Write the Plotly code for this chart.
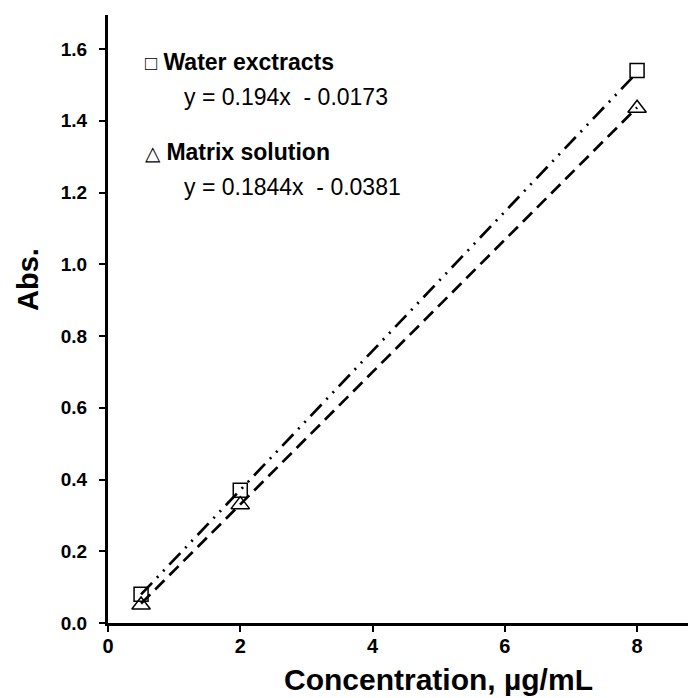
import plotly.graph_objects as go

concentration = [0.5, 2, 8]
water_abs = [0.08, 0.37, 1.54]
matrix_abs = [0.05, 0.33, 1.435]
water_fit = (0.194, -0.0173)
matrix_fit = (0.1844, -0.0381)
fit_x = [0.5, 8]
x_ticks = [0, 2, 4, 6, 8]
y_ticks = [0.0, 0.2, 0.4, 0.6, 0.8, 1.0, 1.2, 1.4, 1.6]

FONT = "Liberation Sans, Arial, sans-serif"

fig = go.Figure()
fig.add_trace(go.Scatter(
    x=fit_x, y=[water_fit[0] * v + water_fit[1] for v in fit_x],
    mode="lines", line=dict(color="black", width=2.7, dash="16px,7px,2px,7px,2px,7px"),
    showlegend=False, hoverinfo="skip"))
fig.add_trace(go.Scatter(
    x=fit_x, y=[matrix_fit[0] * v + matrix_fit[1] for v in fit_x],
    mode="lines", line=dict(color="black", width=2.7, dash="13px,7px"),
    showlegend=False, hoverinfo="skip"))
fig.add_trace(go.Scatter(
    x=concentration, y=water_abs, mode="markers", name="Water exctracts",
    marker=dict(symbol="square-open", size=14, color="black", line=dict(width=1.5)),
    showlegend=False))
fig.add_trace(go.Scatter(
    x=concentration, y=matrix_abs, mode="markers", name="Matrix solution",
    marker=dict(symbol="triangle-up-open", size=16, color="black", line=dict(width=1.5)),
    showlegend=False))

L, T, B = 108, 15, 623


def px_x(p):
    return (p - L) / (688 - L)


def px_y(p):
    return (B - p) / (B - T)


sym = "<span style='font-size:20px'>{}</span>"
notes = [
    (sym.format("□") + " <b>Water exctracts</b>", 143, 62),
    ("y = 0.194x  - 0.0173", 182, 97),
    (sym.format("△") + " <b>Matrix solution</b>", 143, 152),
    ("y = 0.1844x  - 0.0381", 182, 187),
]
for txt, x, y in notes:
    fig.add_annotation(text=txt, x=px_x(x), y=px_y(y), xref="paper", yref="paper",
                       xanchor="left", yanchor="middle", showarrow=False,
                       font=dict(family=FONT, size=23, color="black"))

fig.add_annotation(text="<b>Concentration, µg/mL</b>", x=px_x(438), y=px_y(679),
                   xref="paper", yref="paper", xanchor="center", yanchor="middle",
                   showarrow=False, font=dict(family=FONT, size=30, color="black"))
fig.add_annotation(text="<b>Abs.</b>", x=px_x(28), y=px_y(280), textangle=-90,
                   xref="paper", yref="paper", xanchor="center", yanchor="middle",
                   showarrow=False, font=dict(family=FONT, size=29, color="black"))

fig.update_layout(
    width=688, height=698,
    margin=dict(l=L, r=0, t=T, b=698 - B),
    paper_bgcolor="white", plot_bgcolor="white",
    font=dict(family=FONT, color="black"),
    xaxis=dict(range=[0, 8.77], tickvals=x_ticks, ticktext=[f"<b>{v}</b>" for v in x_ticks],
               showgrid=False, zeroline=False, showline=True, linecolor="black", linewidth=3,
               ticks="outside", ticklen=6, tickwidth=2, tickcolor="black",
               ticklabelstandoff=-3,
               tickfont=dict(family=FONT, size=20, color="black")),
    yaxis=dict(range=[0, 1.695], tickvals=y_ticks, ticktext=[f"<b>{v:.1f}</b>" for v in y_ticks],
               showgrid=False, zeroline=False, showline=True, linecolor="black", linewidth=3,
               ticks="outside", ticklen=6, tickwidth=2, tickcolor="black",
               ticklabelstandoff=8,
               tickfont=dict(family=FONT, size=19, color="black")),
)

fig.write_html("out.html", config={"displayModeBar": False},
               post_script="document.body.style.margin='0px';")
